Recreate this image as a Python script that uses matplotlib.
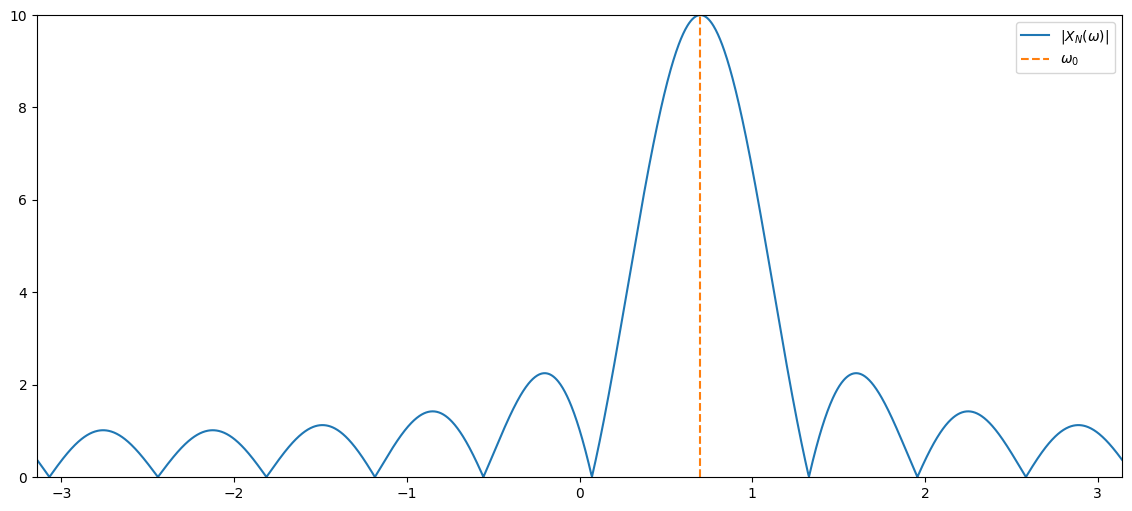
import numpy as np
import matplotlib
matplotlib.use("Agg")
import matplotlib.pyplot as plt

# signal: truncated complex exponential
N = 10          # main lobe height = N
omega0 = 0.7    # peak location
n = np.arange(N)
x = np.exp(1j * omega0 * n)

# DTFT evaluated on a frequency grid
omega = np.linspace(-np.pi, np.pi, 2001)
X = np.exp(-1j * np.outer(omega, n)) @ x

fig = plt.figure(figsize=(11.32, 5.11), dpi=100)
ax = fig.add_axes([0.0327, 0.0665, 0.9585, 0.9041])

ax.plot(omega, np.abs(X), label=r'$|X_N(\omega)|$')
ax.vlines(omega0, 0, N, colors='C1', linestyles='--', label=r'$\omega_0$')

ax.set_xlim(-np.pi, np.pi)
ax.set_ylim(0, 10)
ax.legend(loc='upper right')

fig.savefig("out.png", dpi=100)
